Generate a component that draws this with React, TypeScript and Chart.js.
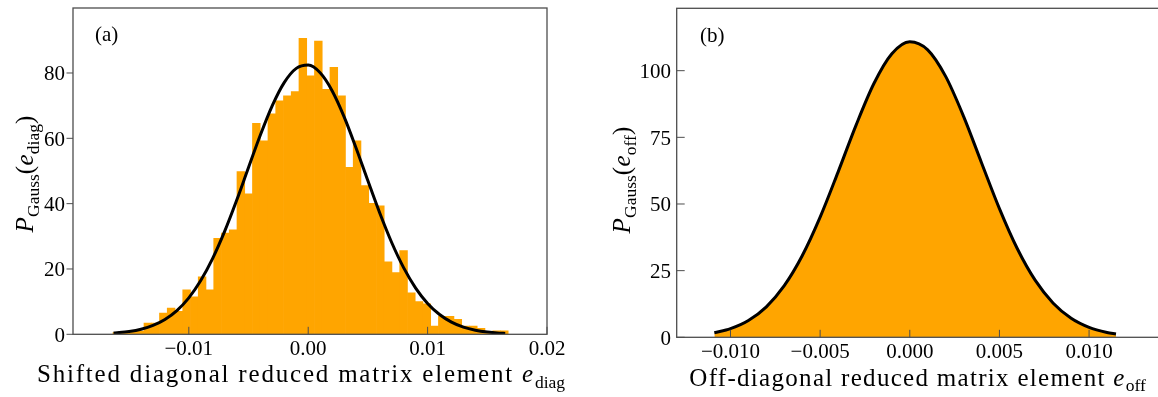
import { useEffect, useRef } from "react";
import { Chart, registerables } from "chart.js";

Chart.register(...registerables);

const ORANGE = "#FFA500";
const FRAME = "#4d4d4d";
const SERIF = '"Liberation Serif", "DejaVu Serif", serif';

// ---- Panel (a): histogram of the shifted diagonal element with its Gaussian fit ----
const diagBinStart = -0.01635;
const diagBinWidth = 0.000649;
const diagCounts = [
  0.5, 0.3, 0.8, 1.0, 3.4, 3.4, 6.5, 8.0, 7.0, 13.6,
  11.5, 17.6, 13.6, 29.4, 31.0, 32.0, 49.8, 43.0, 64.6, 59.2,
  67.5, 71.5, 73.0, 74.3, 90.6, 79.1, 89.8, 75.0, 81.7, 73.0,
  51.1, 59.2, 45.5, 40.1, 39.3, 22.2, 18.9, 25.6, 12.7, 10.0,
  9.3, 2.5, 5.5, 5.5, 4.6, 2.5, 2.5, 1.8, 0.8, 1.1, 1.1,
];
const diagFitX = [
  -0.0163, -0.016, -0.015, -0.014, -0.013, -0.012, -0.011, -0.01, -0.009, -0.008,
  -0.007, -0.006, -0.005, -0.004, -0.003, -0.002, -0.001, 0.0, 0.001, 0.002,
  0.003, 0.004, 0.005, 0.006, 0.007, 0.008, 0.009, 0.01, 0.011, 0.012,
  0.013, 0.014, 0.015, 0.016, 0.0165,
];
const diagFitY = [
  0.37, 0.46, 0.86, 1.56, 2.72, 4.54, 7.27, 11.17, 16.45, 23.24,
  31.49, 40.94, 51.06, 61.07, 70.07, 77.12, 81.41, 82.43, 80.06, 74.59,
  66.66, 57.14, 46.98, 37.05, 28.03, 20.34, 14.16, 9.45, 6.05, 3.72,
  2.19, 1.24, 0.67, 0.35, 0.26,
];
const diagXTicks = [-0.01, 0.0, 0.01, 0.02];
const diagXTickLabels = ["\u22120.01", "0.00", "0.01", "0.02"];
const diagYTicks = [0, 20, 40, 60, 80];
const diagYTickLabels = ["0", "20", "40", "60", "80"];

// ---- Panel (b): Gaussian distribution of the off-diagonal element ----
const offX = [
  -0.0109, -0.01, -0.009, -0.008, -0.007, -0.006, -0.005, -0.004, -0.003, -0.002,
  -0.001, 0.0, 0.001, 0.002, 0.003, 0.004, 0.005, 0.006, 0.007, 0.008,
  0.009, 0.01, 0.011, 0.0115,
];
const offY = [
  1.68, 3.24, 6.3, 11.44, 19.36, 30.57, 45.06, 61.97, 79.51, 95.2,
  106.35, 110.86, 107.83, 97.87, 82.88, 65.49, 48.29, 33.22, 21.33, 12.78,
  7.14, 3.73, 1.81, 1.23,
];
const offXTicks = [-0.01, -0.005, 0.0, 0.005, 0.01];
const offXTickLabels = ["\u22120.010", "\u22120.005", "0.000", "0.005", "0.010"];
const offYTicks = [0, 25, 50, 75, 100];
const offYTickLabels = ["0", "25", "50", "75", "100"];

type Seg = { t: string; it?: boolean; sub?: boolean };

const CANVAS_W = 1170;
const CANVAS_H = 397;

interface PanelSpec {
  area: { left: number; right: number; top: number; bottom: number };
  xMin: number;
  xMax: number;
  yMax: number;
  xTicks: number[];
  xTickLabels: string[];
  yTicks: number[];
  yTickLabels: string[];
  yTickOut: boolean;
  xLabelBaseline: number;
  yLabelRight: number;
  xTitle: Seg[];
  xTitleCenter: number;
  xTitleBaseline: number;
  xTitleSpacing: number;
  yTitle: Seg[];
  yTitleBaselineX: number;
  yTitleCenterY: number;
  tag: string;
  tagX: number;
  tagBaseline: number;
}

const TICK_FONT = 21;
const TITLE_FONT = 25;

function segFont(s: Seg, size: number) {
  const sz = s.sub ? size * 0.7 : size;
  return `${s.it ? "italic " : ""}${sz}px ${SERIF}`;
}

function drawRich(ctx: CanvasRenderingContext2D, segs: Seg[], cx: number, y: number, size: number, spacing: number) {
  ctx.save();
  ctx.textAlign = "left";
  ctx.textBaseline = "alphabetic";
  const widths = segs.map((s) => {
    ctx.font = segFont(s, size);
    (ctx as any).letterSpacing = s.sub ? "0px" : `${spacing}px`;
    return ctx.measureText(s.t).width;
  });
  const total = widths.reduce((a, b) => a + b, 0);
  let x = cx - total / 2;
  segs.forEach((s, i) => {
    ctx.font = segFont(s, size);
    (ctx as any).letterSpacing = s.sub ? "0px" : `${spacing}px`;
    ctx.fillText(s.t, x, s.sub ? y + size * 0.22 : y);
    x += widths[i];
  });
  ctx.restore();
}

function decorPlugin(p: PanelSpec) {
  return {
    id: "panelDecor",
    afterDraw(chart: Chart) {
      const { ctx, chartArea: a } = chart;
      const xs = chart.scales.x;
      const ys = chart.scales.y;
      ctx.save();
      ctx.strokeStyle = FRAME;
      ctx.lineWidth = 1.3;
      ctx.strokeRect(a.left, a.top, a.right - a.left, a.bottom - a.top);

      ctx.beginPath();
      p.xTicks.forEach((v) => {
        const px = xs.getPixelForValue(v);
        ctx.moveTo(px, a.bottom);
        ctx.lineTo(px, a.bottom - 7.5);
      });
      p.yTicks.forEach((v) => {
        const py = ys.getPixelForValue(v);
        ctx.moveTo(a.left, py);
        ctx.lineTo(p.yTickOut ? a.left - 6.5 : a.left + 8, py);
      });
      ctx.lineWidth = 1;
      ctx.stroke();

      ctx.fillStyle = "#000";
      ctx.font = `${TICK_FONT}px ${SERIF}`;
      ctx.textBaseline = "alphabetic";
      ctx.textAlign = "center";
      p.xTicks.forEach((v, i) => {
        ctx.fillText(p.xTickLabels[i], xs.getPixelForValue(v), p.xLabelBaseline);
      });
      ctx.textAlign = "right";
      p.yTicks.forEach((v, i) => {
        ctx.fillText(p.yTickLabels[i], p.yLabelRight, ys.getPixelForValue(v) + 7.2);
      });

      ctx.textAlign = "left";
      ctx.fillText(p.tag, p.tagX, p.tagBaseline);

      drawRich(ctx, p.xTitle, p.xTitleCenter, p.xTitleBaseline, TITLE_FONT, p.xTitleSpacing);

      ctx.save();
      ctx.translate(p.yTitleBaselineX, p.yTitleCenterY);
      ctx.rotate(-Math.PI / 2);
      drawRich(ctx, p.yTitle, 0, 0, TITLE_FONT, 0.3);
      ctx.restore();

      ctx.restore();
    },
  };
}

function baseOptions(p: PanelSpec): any {
  return {
    responsive: false,
    animation: false,
    devicePixelRatio: 1,
    layout: {
      padding: {
        left: 0,
        top: p.area.top,
        right: CANVAS_W - p.area.right,
        bottom: 0,
      },
    },
    plugins: { legend: { display: false }, tooltip: { enabled: false } },
    events: [],
    scales: {
      x: {
        type: "linear",
        min: p.xMin,
        max: p.xMax,
        offset: false,
        grid: { display: false, drawTicks: false },
        border: { display: false },
        ticks: { display: false },
        afterFit: (s: any) => {
          s.height = CANVAS_H - p.area.bottom;
        },
      },
      y: {
        type: "linear",
        min: 0,
        max: p.yMax,
        grid: { display: false, drawTicks: false },
        border: { display: false },
        ticks: { display: false },
        afterFit: (s: any) => {
          s.width = p.area.left;
        },
      },
    },
  };
}

const specA: PanelSpec = {
  area: { left: 73, right: 547, top: 8, bottom: 334.3 },
  xMin: -0.0197,
  xMax: 0.02,
  yMax: 99.9,
  xTicks: diagXTicks,
  xTickLabels: diagXTickLabels,
  yTicks: diagYTicks,
  yTickLabels: diagYTickLabels,
  yTickOut: true,
  xLabelBaseline: 355,
  yLabelRight: 65,
  xTitle: [
    { t: "Shifted diagonal reduced matrix element " },
    { t: "e", it: true },
    { t: "diag", sub: true },
  ],
  xTitleCenter: 301,
  xTitleBaseline: 382,
  xTitleSpacing: 1.8,
  yTitle: [
    { t: "P", it: true },
    { t: "Gauss", sub: true },
    { t: "(" },
    { t: "e", it: true },
    { t: "diag", sub: true },
    { t: ")" },
  ],
  yTitleBaselineX: 33,
  yTitleCenterY: 174,
  tag: "(a)",
  tagX: 95,
  tagBaseline: 41,
};

const specB: PanelSpec = {
  area: { left: 676.7, right: 1159, top: 8.3, bottom: 337.3 },
  xMin: -0.013,
  xMax: 0.0139,
  yMax: 123.4,
  xTicks: offXTicks,
  xTickLabels: offXTickLabels,
  yTicks: offYTicks,
  yTickLabels: offYTickLabels,
  yTickOut: false,
  xLabelBaseline: 357.5,
  yLabelRight: 671,
  xTitle: [
    { t: "Off-diagonal reduced matrix element " },
    { t: "e", it: true },
    { t: "off", sub: true },
  ],
  xTitleCenter: 917.5,
  xTitleBaseline: 385.5,
  xTitleSpacing: 1.3,
  yTitle: [
    { t: "P", it: true },
    { t: "Gauss", sub: true },
    { t: "(" },
    { t: "e", it: true },
    { t: "off", sub: true },
    { t: ")" },
  ],
  yTitleBaselineX: 630,
  yTitleCenterY: 180,
  tag: "(b)",
  tagX: 700,
  tagBaseline: 42,
};

function HistogramPanel() {
  const ref = useRef<HTMLCanvasElement>(null);
  useEffect(() => {
    if (!ref.current) return;
    const bars = diagCounts.map((c, i) => ({ x: diagBinStart + (i + 0.5) * diagBinWidth, y: c }));
    const fit = diagFitX.map((x, i) => ({ x, y: diagFitY[i] }));
    const chart = new Chart(ref.current, {
      type: "bar",
      data: {
        datasets: [
          {
            type: "line",
            data: fit,
            borderColor: "#000",
            borderWidth: 3,
            pointRadius: 0,
            fill: false,
            cubicInterpolationMode: "monotone",
            order: 0,
          } as any,
          {
            type: "bar",
            data: bars,
            backgroundColor: ORANGE,
            borderWidth: 0,
            barPercentage: 1,
            categoryPercentage: 1,
            order: 1,
          } as any,
        ],
      },
      options: baseOptions(specA),
      plugins: [decorPlugin(specA)],
    });
    return () => chart.destroy();
  }, []);
  return (
    <canvas
      ref={ref}
      width={CANVAS_W}
      height={CANVAS_H}
      style={{ position: "absolute", left: 0, top: 0 }}
    />
  );
}

function GaussianPanel() {
  const ref = useRef<HTMLCanvasElement>(null);
  useEffect(() => {
    if (!ref.current) return;
    const pts = offX.map((x, i) => ({ x, y: offY[i] }));
    const chart = new Chart(ref.current, {
      type: "line",
      data: {
        datasets: [
          {
            data: pts,
            borderColor: "#000",
            borderWidth: 3,
            backgroundColor: ORANGE,
            pointRadius: 0,
            fill: "origin",
            cubicInterpolationMode: "monotone",
          } as any,
        ],
      },
      options: baseOptions(specB),
      plugins: [decorPlugin(specB)],
    });
    return () => chart.destroy();
  }, []);
  return (
    <canvas
      ref={ref}
      width={CANVAS_W}
      height={CANVAS_H}
      style={{ position: "absolute", left: 0, top: 0 }}
    />
  );
}

export default function App() {
  return (
    <div
      style={{
        position: "fixed",
        left: 0,
        top: 0,
        width: 1158,
        height: 397,
        overflow: "hidden",
        background: "#fff",
      }}
    >
      <HistogramPanel />
      <GaussianPanel />
    </div>
  );
}
